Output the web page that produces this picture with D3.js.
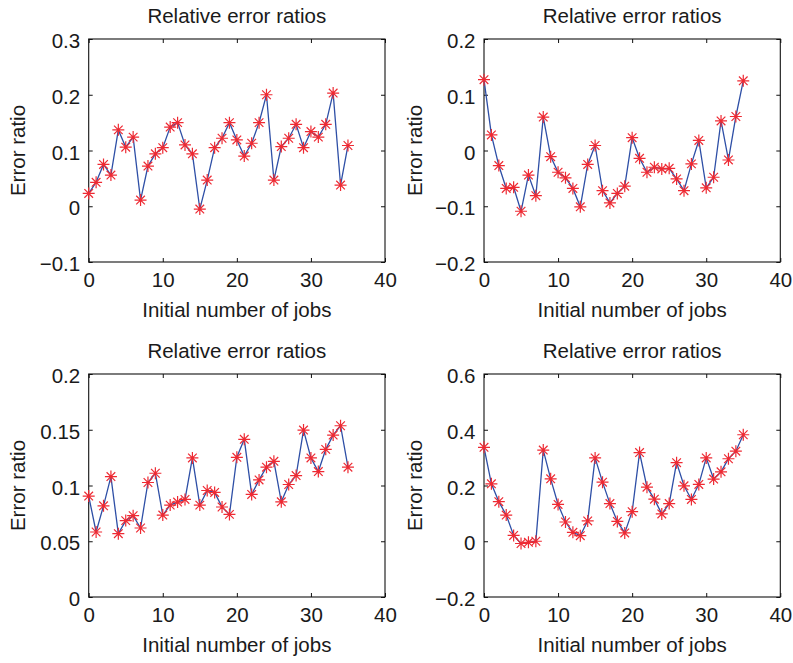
<!DOCTYPE html>
<html><head><meta charset="utf-8">
<script src="https://cdn.jsdelivr.net/npm/d3@7"></script>
<style>body{margin:0;background:#fff}svg{display:block}text{font-family:"Liberation Sans",Arial,sans-serif;fill:#1a1a1a}</style>
</head><body>
<svg id="c" width="793" height="663"></svg>
<script>
const jobs = d3.range(0, 36);
const xTicks = [0, 10, 20, 30, 40];
const title = "Relative error ratios";
const xLabel = "Initial number of jobs";
const yLabel = "Error ratio";

const series1 = [0.023,0.043,0.075,0.056,0.137,0.106,0.124,0.011,0.072,0.094,0.105,0.142,0.150,0.110,0.094,-0.005,0.047,0.105,0.122,0.150,0.119,0.090,0.113,0.150,0.200,0.047,0.107,0.122,0.147,0.105,0.134,0.124,0.147,0.203,0.038,0.109];
const series2 = [0.127,0.028,-0.027,-0.068,-0.066,-0.109,-0.044,-0.081,0.060,-0.011,-0.039,-0.049,-0.068,-0.101,-0.025,0.009,-0.072,-0.094,-0.077,-0.064,0.023,-0.014,-0.039,-0.030,-0.033,-0.032,-0.051,-0.072,-0.024,0.018,-0.067,-0.048,0.053,-0.017,0.061,0.125];
const series3 = [0.0905,0.0583,0.0818,0.108,0.0568,0.0685,0.0729,0.0619,0.1027,0.111,0.0735,0.0824,0.0851,0.0875,0.1247,0.0824,0.0955,0.0938,0.0807,0.0741,0.1253,0.1414,0.092,0.105,0.1164,0.1217,0.0854,0.1009,0.1089,0.1497,0.1247,0.1125,0.1324,0.1452,0.1536,0.1164];
const series4 = [0.337,0.206,0.142,0.094,0.021,-0.008,-0.004,0.000,0.327,0.224,0.132,0.069,0.032,0.020,0.073,0.299,0.212,0.135,0.071,0.030,0.106,0.318,0.194,0.151,0.098,0.135,0.282,0.199,0.150,0.204,0.299,0.223,0.249,0.296,0.323,0.382];

const yTicks1 = [-0.1, 0, 0.1, 0.2, 0.3];
const yTicks2 = [-0.2, -0.1, 0, 0.1, 0.2];
const yTicks3 = [0, 0.05, 0.1, 0.15, 0.2];
const yTicks4 = [-0.2, 0, 0.2, 0.4, 0.6];
const yTickLabels3 = ["0", "0.05", "0.1", "0.15", "0.2"];

const f1 = d => d === 0 ? "0" : d3.format(".1f")(d).replace("-", "\u2212");
const panels = [
  {vals: series1, ticks: yTicks1, labels: yTicks1.map(f1), x: 88.7, y: 39},
  {vals: series2, ticks: yTicks2, labels: yTicks2.map(f1), x: 484, y: 39},
  {vals: series3, ticks: yTicks3, labels: yTickLabels3, x: 88.7, y: 374},
  {vals: series4, ticks: yTicks4, labels: yTicks4.map(f1), x: 484, y: 374}
];
const W = 296.3, H = 223;
const FS = 20.5;
const svg = d3.select("#c");

panels.forEach(p => {
  const g = svg.append("g").attr("transform", `translate(${p.x},${p.y})`);
  const x = d3.scaleLinear().domain([0, 40]).range([0, W]);
  const y = d3.scaleLinear().domain(d3.extent(p.ticks)).range([H, 0]);
  g.append("rect").attr("width", W).attr("height", H).attr("fill", "none").attr("stroke", "#111").attr("stroke-width", 1.1);
  const xa = g.append("g").attr("transform", `translate(0,${H})`)
    .call(d3.axisBottom(x).tickValues(xTicks).tickSize(-4).tickPadding(0).tickFormat(d3.format("d")));
  const xt = g.append("g").call(d3.axisTop(x).tickValues(xTicks).tickSize(-4).tickFormat(""));
  const ya = g.append("g").call(d3.axisLeft(y).tickValues(p.ticks).tickSize(-4).tickPadding(8.5).tickFormat((d, i) => p.labels[i]));
  const yr = g.append("g").attr("transform", `translate(${W},0)`).call(d3.axisRight(y).tickValues(p.ticks).tickSize(-4).tickFormat(""));
  [xa, xt, ya, yr].forEach(a => {
    a.select(".domain").remove();
    a.selectAll("line").attr("stroke", "#111");
    a.selectAll("text").attr("font-size", FS).attr("fill", "#1a1a1a").attr("font-family", '"Liberation Sans",Arial,sans-serif');
  });
  xa.selectAll("text").attr("y", 25).attr("dy", null);
  ya.selectAll("text").attr("dy", "0.42em");
  const line = d3.line().x((d, i) => x(jobs[i])).y(d => y(d));
  g.append("path").datum(p.vals).attr("d", line).attr("fill", "none").attr("stroke", "#2e4fa6").attr("stroke-width", 1.3);
  const r = 6;
  const star = `M${-r},0L${r},0M0,${-r}L0,${r}M${-r*0.72},${-r*0.72}L${r*0.72},${r*0.72}M${-r*0.72},${r*0.72}L${r*0.72},${-r*0.72}`;
  g.selectAll(".m").data(p.vals).enter().append("path")
    .attr("transform", (d, i) => `translate(${x(jobs[i])},${y(d)})`)
    .attr("d", star).attr("stroke", "#ee2a33").attr("stroke-width", 1.2).attr("fill", "none");
  g.append("text").attr("x", W / 2).attr("y", -16).attr("text-anchor", "middle").attr("font-size", FS).text(title);
  g.append("text").attr("x", W / 2).attr("y", H + 55).attr("text-anchor", "middle").attr("font-size", FS).text(xLabel);
  g.append("text").attr("transform", `translate(${p.x < 200 ? -64 : -62},${H / 2}) rotate(-90)`).attr("text-anchor", "middle").attr("font-size", FS).text(yLabel);
});
</script>
</body></html>
